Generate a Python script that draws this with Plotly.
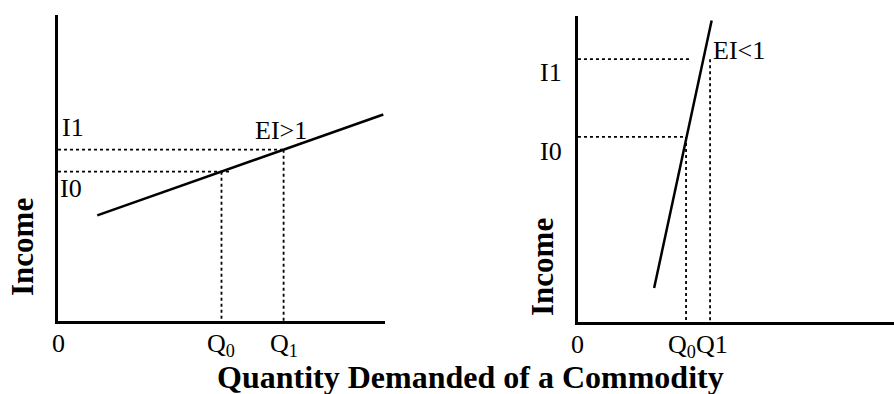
import plotly.graph_objects as go

# left panel: income-elastic good (EI > 1)
left_curve_q = [1.2, 9.95]
left_curve_i = [3.45, 6.75]
left_q = [5.0, 6.9]      # Q0, Q1
left_inc = [4.88, 5.6]   # I0, I1

# right panel: income-inelastic good (EI < 1)
right_curve_q = [2.41, 4.23]
right_curve_i = [1.11, 9.85]
right_q = [3.42, 4.18]
right_inc = [6.05, 8.59]
right_guide_end = [3.39, 3.6]  # where the dotted income lines stop

FONT = "Times New Roman, Liberation Serif, serif"
BLACK = "#000000"

fig = go.Figure()


def add_panel(xa, ya, curve_q, curve_i, qs, incs, guide_end):
    xref, yref = xa.replace("axis", ""), ya.replace("axis", "")
    fig.add_trace(go.Scatter(x=curve_q, y=curve_i, mode="lines",
                             line=dict(color=BLACK, width=2.5),
                             xaxis=xref, yaxis=yref, showlegend=False))
    for q, inc, end in zip(qs, incs, guide_end):
        fig.add_trace(go.Scatter(x=[0, end], y=[inc, inc], mode="lines",
                                 line=dict(color=BLACK, width=1.8, dash="dot"),
                                 xaxis=xref, yaxis=yref, showlegend=False))
        fig.add_trace(go.Scatter(x=[q, q], y=[inc, 0], mode="lines",
                                 line=dict(color=BLACK, width=1.8, dash="dot"),
                                 xaxis=xref, yaxis=yref, showlegend=False))


add_panel("xaxis", "yaxis", left_curve_q, left_curve_i, left_q, left_inc,
          [left_q[0] + 0.25, left_q[1]])
add_panel("xaxis2", "yaxis2", right_curve_q, right_curve_i, right_q, right_inc,
          right_guide_end)

axis_style = dict(showline=True, linecolor=BLACK, linewidth=3, showgrid=False,
                  zeroline=False, showticklabels=False, ticks="", range=[0, 10],
                  fixedrange=True)

fig.update_layout(
    width=894, height=394,
    margin=dict(l=0, r=0, t=0, b=0),
    paper_bgcolor="white", plot_bgcolor="white",
    font=dict(family=FONT, size=26, color=BLACK),
    xaxis=dict(domain=[0.0649, 0.4306], anchor="y", **axis_style),
    yaxis=dict(domain=[0.1853, 0.9619], anchor="x", **axis_style),
    xaxis2=dict(domain=[0.6465, 1.0], anchor="y2", **axis_style),
    yaxis2=dict(domain=[0.1827, 0.9594], anchor="x2", **axis_style),
)

labels = [
    # left panel
    dict(x=0, y=left_inc[1], text="I1", xanchor="left", yanchor="middle",
         xshift=2, yshift=22, xref="x", yref="y"),
    dict(x=0, y=left_inc[0], text="I0", xanchor="left", yanchor="middle",
         xshift=0, yshift=-17, xref="x", yref="y"),
    dict(x=left_q[1], y=left_inc[1], text="EI&gt;1", xanchor="center",
         yanchor="middle", xshift=-3, yshift=19, xref="x", yref="y"),
    dict(x=0, y=0, text="0", xanchor="center", yanchor="top",
         yshift=-6, xref="x", yref="y"),
    dict(x=left_q[0], y=0, text="Q<sub>0</sub>", xanchor="center",
         yanchor="top", yshift=-6, xref="x", yref="y"),
    dict(x=left_q[1], y=0, text="Q<sub>1</sub>", xanchor="center",
         yanchor="top", yshift=-6, xref="x", yref="y"),
    # right panel
    dict(x=0, y=right_inc[1], text="I1", xanchor="right", yanchor="middle",
         xshift=-14, yshift=-13, xref="x2", yref="y2"),
    dict(x=0, y=right_inc[0], text="I0", xanchor="right", yanchor="middle",
         xshift=-14, yshift=-15, xref="x2", yref="y2"),
    dict(x=right_q[1], y=right_inc[1], text="EI&lt;1", xanchor="left",
         yanchor="middle", xshift=1, yshift=9, xref="x2", yref="y2"),
    dict(x=0, y=0, text="0", xanchor="center", yanchor="top",
         yshift=-6, xref="x2", yref="y2"),
    dict(x=(right_q[0] + right_q[1]) / 2, y=0, text="Q<sub>0</sub>Q1",
         xanchor="center", yanchor="top", yshift=-6, xref="x2", yref="y2"),
    # axis titles
    dict(x=22 / 894, y=(394 - 247) / 394, text="<b>Income</b>", textangle=-90,
         font=dict(size=31), xanchor="center", yanchor="middle",
         xref="paper", yref="paper"),
    dict(x=542 / 894, y=(394 - 267) / 394, text="<b>Income</b>", textangle=-90,
         font=dict(size=31), xanchor="center", yanchor="middle",
         xref="paper", yref="paper"),
    dict(x=470 / 894, y=(394 - 377) / 394,
         text="<b>Quantity Demanded of a Commodity</b>",
         font=dict(size=32), xanchor="center", yanchor="middle",
         xref="paper", yref="paper"),
]
for lab in labels:
    fig.add_annotation(showarrow=False, **lab)

# drop the page's default 8px body margin so the figure fills the window
fig.write_html("out.html", config={"displayModeBar": False},
               post_script="document.body.style.margin='0';")
